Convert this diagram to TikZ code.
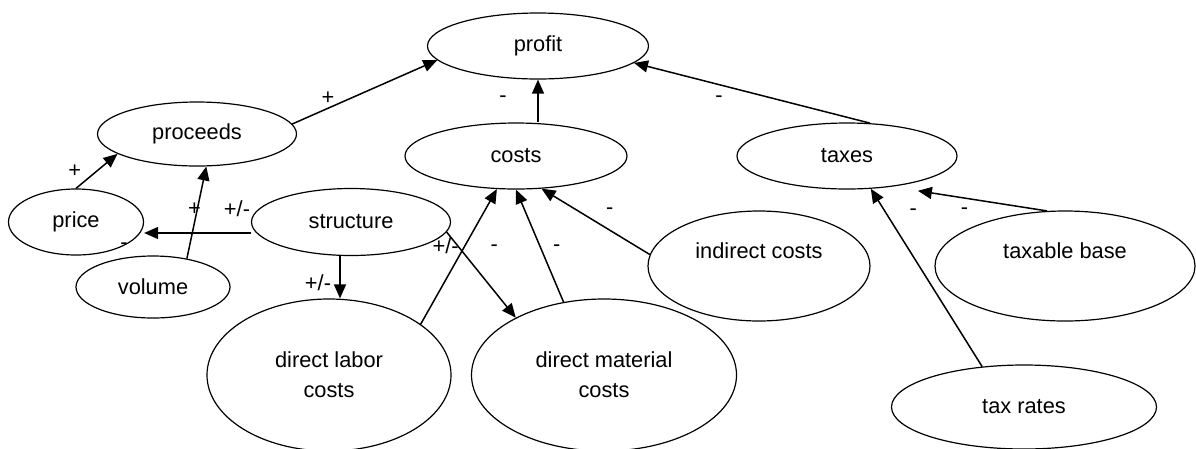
\documentclass[tikz,border=0pt]{standalone}
\usepackage{fontspec}
\setmainfont{Liberation Sans}
\usetikzlibrary{shapes.geometric, arrows.meta}

\begin{document}
\begin{tikzpicture}[x=1pt, y=-1pt, >={Triangle[length=14pt,width=12pt]},
  every node/.style={font=\fontsize{21.8}{30}\selectfont},
  concept/.style={draw, ellipse, line width=1.2pt, inner sep=0pt, align=center},
  sign/.style={inner sep=0pt},
  link/.style={->, line width=1.5pt}]
\useasboundingbox (0,0) rectangle (1196,448);
% concepts
\node[concept, minimum width=221pt, minimum height=66pt] (profit) at (538,46) {profit};
\node[concept, minimum width=199pt, minimum height=64pt] (proceeds) at (197,134) {proceeds};
\node[concept, minimum width=222pt, minimum height=66pt] (costs) at (516,156) {costs};
\node[concept, minimum width=220pt, minimum height=66pt] (taxes) at (847,156) {taxes};
\node[concept, minimum width=135pt, minimum height=66pt] (price) at (76,222) {price};
\node[concept, minimum width=199pt, minimum height=67pt] (structure) at (351,222) {structure};
\node[concept, minimum width=154pt, minimum height=62pt] (volume) at (153,287) {volume};
\node[concept, minimum width=222pt, minimum height=110pt] (indirect) at (759,266) {indirect costs\\\phantom{x}};
\node[concept, minimum width=260pt, minimum height=110pt] (base) at (1065,266) {taxable base\\\phantom{x}};
\node[concept, minimum width=244pt, minimum height=152pt] (labor) at (329,375) {direct labor\\costs};
\node[concept, minimum width=265pt, minimum height=152pt] (material) at (604,375) {direct material\\costs};
\node[concept, minimum width=265pt, minimum height=84pt] (rates) at (1024,407) {tax rates};
\coordinate (strfoot) at ([xshift=-11pt]structure.south);
% influences
\draw[link] (proceeds.6) -- (profit.188) node[sign, pos=.24, xshift=1pt, yshift=10pt]{+};
\draw[link] (costs.north -| profit.south) -- (profit.south) node[sign, pos=.55, xshift=-35pt]{-};
\draw[link] (taxes.55) -- (profit.350) node[sign, pos=.64, yshift=-15pt]{-};
\draw[link] (price.north) -- (proceeds.194) node[sign, pos=.5, xshift=-22pt]{+};
\draw[link] (volume.40) -- (proceeds.286) node[sign, pos=.54, xshift=-3pt]{+};
\draw[link] ([yshift=-11pt]structure.west) -- ([yshift=-11pt]price.east)
  node[sign, pos=.13, yshift=24pt]{+/-} node[sign, pos=1, xshift=-20pt, yshift=-13pt]{-};
\draw[link] (strfoot) -- (strfoot |- labor.north) node[sign, pos=.63, xshift=-22pt]{+/-};
\draw[link] (structure.354) -- (material.147) node[sign, pos=.16, xshift=-12pt]{+/-};
\draw[link] (labor.29) -- (costs.240) node[sign, pos=.56, xshift=31pt]{-};
\draw[link] (material.119) -- (costs.south) node[sign, pos=.48, xshift=16pt]{-};
\draw[link] (indirect.174) -- (costs.308) node[sign, pos=.37, yshift=19pt]{-};
\draw[link] (rates.136) -- (taxes.306) node[sign, pos=.87, xshift=28pt]{-};
\draw[link] (base.108) -- ([yshift=-9pt]taxes.340) node[sign, pos=.64, yshift=-13pt]{-};
\end{tikzpicture}
\end{document}
